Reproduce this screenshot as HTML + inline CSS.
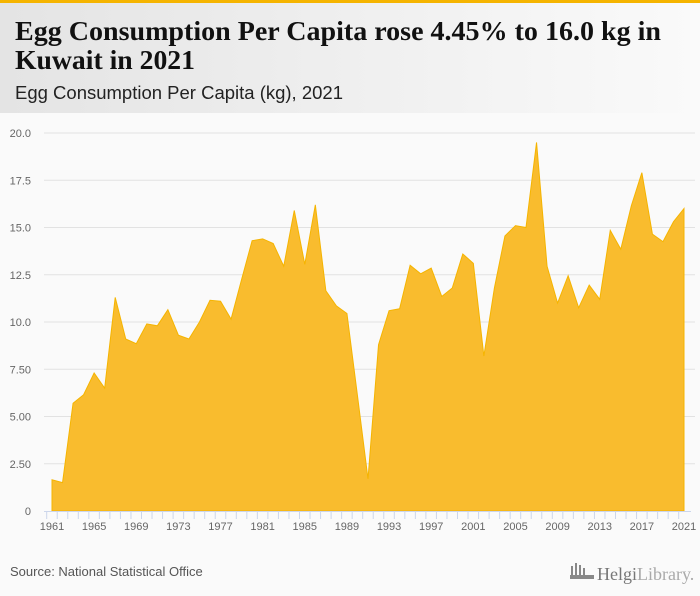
<!DOCTYPE html>
<html><head><meta charset="utf-8"><style>
html,body{margin:0;padding:0;background:#fafafa;}
svg{display:block;font-family:"Liberation Sans",sans-serif;}
</style></head><body>
<svg id="chart" width="700" height="596" viewBox="0 0 700 596">
<defs><linearGradient id="hg" x1="0" x2="1" y1="0" y2="0"><stop offset="0" stop-color="#e4e4e4"/><stop offset="1" stop-color="#fafafa"/></linearGradient></defs>
<rect width="700" height="596" fill="#fafafa"/>
<rect x="0" y="0" width="700" height="113" fill="url(#hg)"/>
<rect x="0" y="0" width="700" height="3" fill="#f5b400"/>
<text x="15" y="40" font-family="'Liberation Serif',serif" font-weight="bold" font-size="27" fill="#111" textLength="646" lengthAdjust="spacingAndGlyphs">Egg Consumption Per Capita rose 4.45% to 16.0 kg in</text>
<text x="15" y="69" font-family="'Liberation Serif',serif" font-weight="bold" font-size="27" fill="#111" textLength="180" lengthAdjust="spacingAndGlyphs">Kuwait in 2021</text>
<text x="15" y="99" font-size="18" fill="#222" textLength="328" lengthAdjust="spacingAndGlyphs">Egg Consumption Per Capita (kg), 2021</text>
<g id="grid"></g>
<g id="area"></g>
<g id="xaxis"></g>
<text x="10" y="576" font-size="13" fill="#555">Source: National Statistical Office</text>
<g fill="#888">
<rect x="571" y="566" width="2" height="10"/><rect x="575" y="563" width="2" height="13"/><rect x="579" y="565" width="2" height="11"/><rect x="583" y="568" width="2" height="8"/>
<rect x="570" y="575" width="24" height="4"/>
<text x="597" y="580" font-family="'Liberation Serif',serif" font-size="18" fill="#777">Helgi<tspan fill="#aaa">Library.</tspan></text>
</g>
</svg>
<script>
const years = [];
for (let y = 1961; y <= 2021; y++) years.push(y);
const values = [1.65,1.5,5.7,6.15,7.3,6.5,11.3,9.1,8.85,9.9,9.8,10.65,9.3,9.1,10.0,11.15,11.1,10.15,12.25,14.3,14.4,14.15,12.95,15.9,13.05,16.2,11.65,10.85,10.45,6.1,1.7,8.8,10.6,10.7,13.0,12.55,12.85,11.35,11.8,13.6,13.1,8.2,11.8,14.55,15.1,15.0,19.5,12.95,11.0,12.45,10.75,11.95,11.2,14.85,13.85,16.15,17.9,14.65,14.25,15.3,16.0];
const yTicks = [0,2.5,5,7.5,10,12.5,15,17.5,20];
const yTickLabels = ["0","2.50","5.00","7.50","10.0","12.5","15.0","17.5","20.0"];
const xLabelYears = [1961,1965,1969,1973,1977,1981,1985,1989,1993,1997,2001,2005,2009,2013,2017,2021];

const NS = "http://www.w3.org/2000/svg";
const X0 = 52, X1 = 684, Y0 = 511, Y1 = 133;
const xs = y => X0 + (y - years[0]) / (years[years.length-1] - years[0]) * (X1 - X0);
const ys = v => Y0 - v / 20 * (Y0 - Y1);
function mk(tag, attrs, parent){const e=document.createElementNS(NS,tag);for(const k in attrs)e.setAttribute(k,attrs[k]);parent.appendChild(e);return e;}

const grid = document.getElementById('grid');
yTicks.forEach((t,i)=>{
  if(t>0){const l=mk('line',{x1:44,x2:695,y1:ys(t),y2:ys(t),stroke:'#e2e2e2','stroke-width':1},grid);
  
  }
  const tx=mk('text',{x:31,y:ys(t)+4,'text-anchor':'end','font-size':11,fill:'#666'},grid);
  tx.textContent=yTickLabels[i];
  
  
});

const area = document.getElementById('area');
let d = 'M'+xs(years[0])+','+Y0;
years.forEach((y,i)=>{d+=' L'+xs(y)+','+ys(values[i]);});
d += ' L'+xs(years[years.length-1])+','+Y0+' Z';
const p = mk('path',{d:d,fill:'#f9bc2e',stroke:'#f5b400','stroke-width':1},area);



const xa = document.getElementById('xaxis');
const al = mk('line',{x1:44,x2:691,y1:Y0+0.5,y2:Y0+0.5,stroke:'#ccd6eb','stroke-width':1},xa);


years.forEach(y=>{
  const tk=mk('line',{x1:xs(y)-5.3,x2:xs(y)-5.3,y1:Y0,y2:Y0+8,stroke:'#ccd6eb','stroke-width':1},xa);
  
  
});
xLabelYears.forEach(y=>{
  const t=mk('text',{x:xs(y),y:Y0+19,'text-anchor':'middle','font-size':11,fill:'#666'},xa);
  t.textContent=String(y);
  
  
});
</script>
</body></html>
